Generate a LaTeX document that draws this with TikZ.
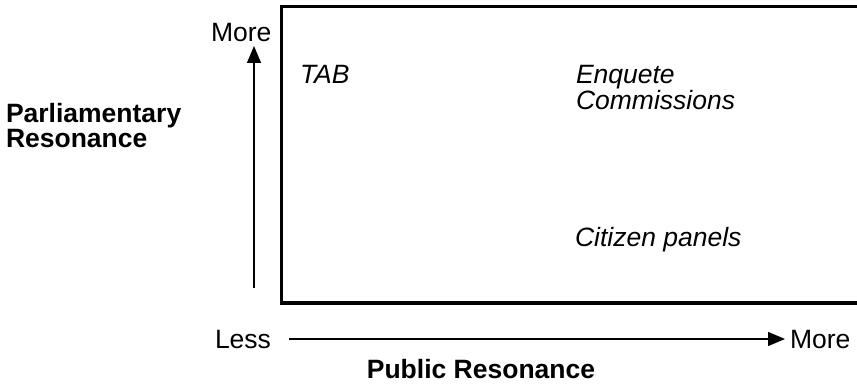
\documentclass[tikz,border=0pt]{standalone}
\usepackage{fontspec}
\setmainfont{Liberation Sans}
\usetikzlibrary{arrows.meta}
\tikzset{
  lbl/.style={inner sep=0pt, outer sep=0pt, font=\fontsize{26.5}{30}\selectfont, anchor=base west},
  bld/.style={lbl, font=\fontsize{26.5}{30}\selectfont\bfseries},
  itl/.style={lbl, font=\fontsize{26.5}{30}\selectfont\itshape},
  axis/.style={line width=1.3pt, -{Triangle[length=17pt,width=14pt]}},
  frame/.style={line width=3.5pt}
}
\begin{document}
\begin{tikzpicture}[x=1pt,y=-1pt]
\useasboundingbox (0,0) rectangle (857,385);
\clip (0,0) rectangle (857,385);
\draw[frame] (870,6.5) -- (281.5,6.5) -- (281.5,303) -- (870,303);
\coordinate (vb) at (254,288);
\coordinate (vt) at (254,46);
\draw[axis] (vb) -- (vt);
\coordinate (hl) at (289,339);
\coordinate (hr) at (785,339);
\draw[axis] (hl) -- (hr);
\node[lbl] (moreV) at (211,42) {More};
\node[lbl] (less) at (215,348) {Less};
\node[lbl] (moreH) at (790,348) {More};
\node[bld] (par1) at (6,123) {Parliamentary};
\node[bld] (par2) at (6,148) {Resonance};
\node[bld, anchor=base] (pub) at (481,378) {Public Resonance};
\node[itl] (tab) at (300,84) {TAB};
\node[itl] (enq1) at (576,84) {Enquete};
\node[itl] (enq2) at (576,110) {Commissions};
\node[itl] (cit) at (575,246) {Citizen panels};
\end{tikzpicture}
\end{document}
